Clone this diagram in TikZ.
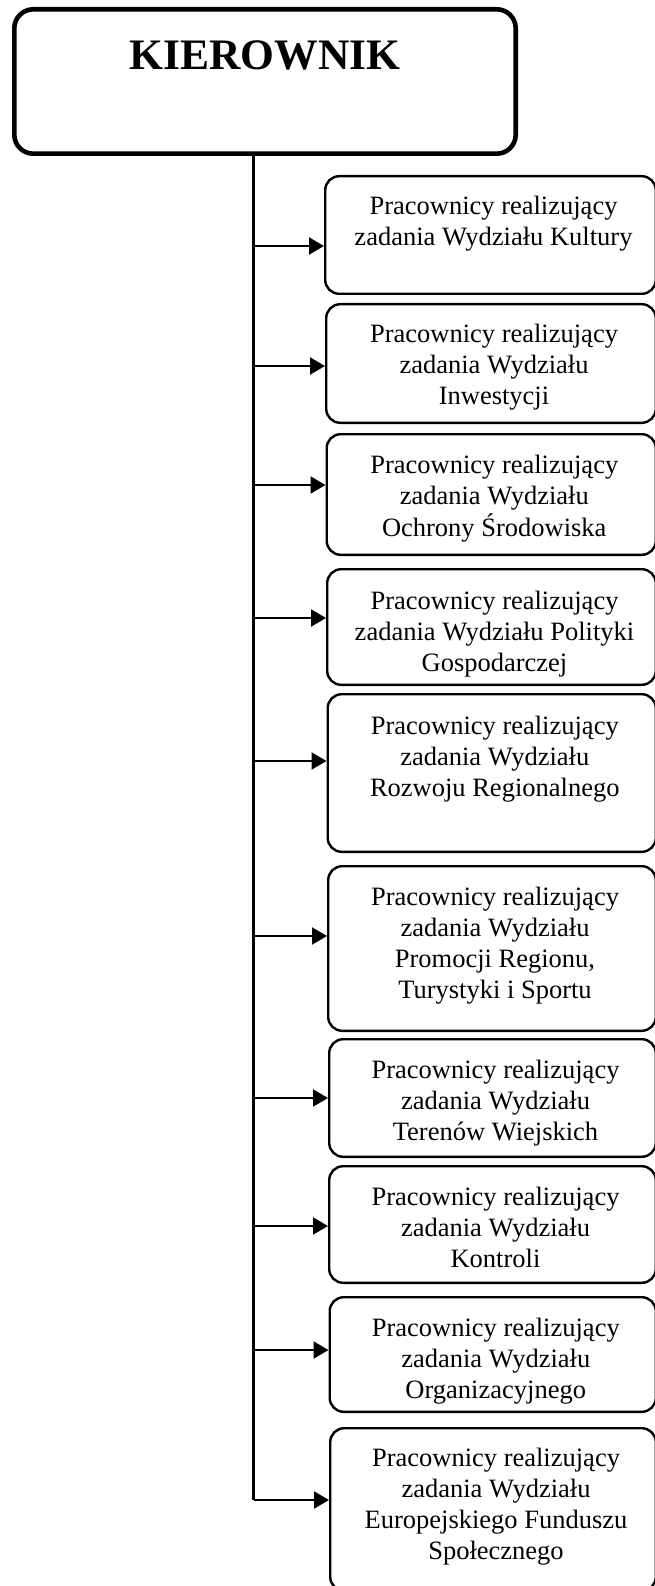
\documentclass[tikz,border=0pt]{standalone}
\usepackage{fontspec}
\setmainfont{Liberation Serif}
\usetikzlibrary{arrows.meta}

% centred lines whose baseline is that of the first line
\newcommand\deptlines[1]{\begin{tabular}[t]{@{}c@{}}#1\end{tabular}}

\tikzset{
  headbox/.style={draw, line width=4.6pt, rounded corners=19pt, anchor=north west, inner sep=0pt},
  deptbox/.style={draw, line width=2.4pt, rounded corners=14pt, anchor=north west, inner sep=0pt},
  headtext/.style={anchor=base, inner sep=0pt, font=\fontsize{43.5}{52}\selectfont\bfseries},
  depttext/.style={anchor=base, inner sep=0pt, font=\fontsize{26.5}{31}\selectfont},
  trunkline/.style={line width=2.1pt},
  feed/.style={line width=2.1pt, -{Triangle[length=15pt,width=17pt]}},
}

\begin{document}
\begin{tikzpicture}[x=1pt,y=-1pt]
\useasboundingbox (0,0) rectangle (655,1586);

% head of the unit
\node[headbox, minimum width=501.4pt, minimum height=144.4pt] (head) at (12,7) {};
\node[headtext] (headlabel) at ([yshift=-63pt]head.north) {KIEROWNIK};

% departments (their right side runs up to the edge of the sheet)
\node[deptbox, minimum width=330.6pt, minimum height=117.6pt] (b1) at (324,175) {};
\node[deptbox, minimum width=329.6pt, minimum height=118.6pt] (b2) at (325,303) {};
\node[deptbox, minimum width=329.1pt, minimum height=120.6pt] (b3) at (325.5,433) {};
\node[deptbox, minimum width=328.6pt, minimum height=115.6pt] (b4) at (326,568) {};
\node[deptbox, minimum width=328.1pt, minimum height=157.6pt] (b5) at (326.5,693) {};
\node[deptbox, minimum width=327.6pt, minimum height=164.6pt] (b6) at (327,865) {};
\node[deptbox, minimum width=326.6pt, minimum height=117.6pt] (b7) at (328,1038) {};
\node[deptbox, minimum width=326.6pt, minimum height=116.6pt] (b8) at (328,1165) {};
\node[deptbox, minimum width=326.1pt, minimum height=114.6pt] (b9) at (328.5,1296) {};
\node[deptbox, minimum width=325.6pt, minimum height=162.6pt] (b10) at (329,1427) {};

\node[depttext] (t1) at ([xshift=3pt,yshift=-40pt]b1.north)
  {\deptlines{Pracownicy realizujący\\zadania Wydziału Kultury}};
\node[depttext] (t2) at ([xshift=3pt,yshift=-39pt]b2.north)
  {\deptlines{Pracownicy realizujący\\zadania Wydziału\\Inwestycji}};
\node[depttext] (t3) at ([xshift=3pt,yshift=-40pt]b3.north)
  {\deptlines{Pracownicy realizujący\\zadania Wydziału\\Ochrony Środowiska}};
\node[depttext] (t4) at ([xshift=3pt,yshift=-41pt]b4.north)
  {\deptlines{Pracownicy realizujący\\zadania Wydziału Polityki\\Gospodarczej}};
\node[depttext] (t5) at ([xshift=3pt,yshift=-41pt]b5.north)
  {\deptlines{Pracownicy realizujący\\zadania Wydziału\\Rozwoju Regionalnego}};
\node[depttext] (t6) at ([xshift=3pt,yshift=-40pt]b6.north)
  {\deptlines{Pracownicy realizujący\\zadania Wydziału\\Promocji Regionu,\\Turystyki i Sportu}};
\node[depttext] (t7) at ([xshift=3pt,yshift=-40pt]b7.north)
  {\deptlines{Pracownicy realizujący\\zadania Wydziału\\Terenów Wiejskich}};
\node[depttext] (t8) at ([xshift=3pt,yshift=-40pt]b8.north)
  {\deptlines{Pracownicy realizujący\\zadania Wydziału\\Kontroli}};
\node[depttext] (t9) at ([xshift=3pt,yshift=-40pt]b9.north)
  {\deptlines{Pracownicy realizujący\\zadania Wydziału\\Organizacyjnego}};
\node[depttext] (t10) at ([xshift=3pt,yshift=-39pt]b10.north)
  {\deptlines{Pracownicy realizujący\\zadania Wydziału\\Europejskiego Funduszu\\Społecznego}};

% trunk line and the levels of the branches
\coordinate (trunk) at (253.5,0);
\coordinate (a1) at (0,246);
\coordinate (a2) at (0,366);
\coordinate (a3) at (0,485);
\coordinate (a4) at (0,618);
\coordinate (a5) at (0,761);
\coordinate (a6) at (0,936);
\coordinate (a7) at (0,1098);
\coordinate (a8) at (0,1226);
\coordinate (a9) at (0,1350);
\coordinate (a10) at (0,1500);

\draw[trunkline] (head.south -| trunk) -- (trunk |- a10);

\foreach \k in {1,...,10}
  \draw[feed] (trunk |- a\k) -- (b\k.west |- a\k);
\end{tikzpicture}
\end{document}
